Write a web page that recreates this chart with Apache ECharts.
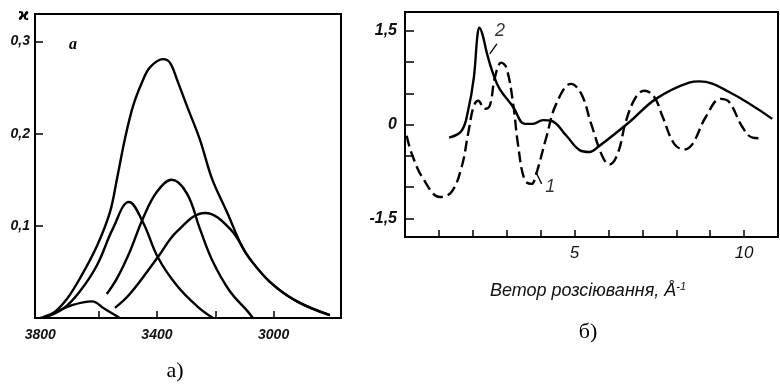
<!DOCTYPE html>
<html><head><meta charset="utf-8">
<script src="https://cdn.jsdelivr.net/npm/echarts@6/dist/echarts.min.js"></script>
<style>html,body{margin:0;padding:0;background:#fff}#c{width:780px;height:384px}</style>
</head><body><div id="c"></div>
<script>
// ---- Panel a) : IR band decomposition (wavenumber, absorbance) ----
const aXTicks = [3600, 3400, 3200, 3000];
const aXLabels = [3800, 3400, 3000];
const aYTicks = [0.1, 0.2, 0.3];
const envelope = [[3800,0],[3757,0.005],[3708,0.021],[3664,0.043],[3606,0.078],[3561,0.115],[3537,0.151],[3510,0.194],[3482,0.230],[3451,0.256],[3424,0.272],[3379,0.281],[3355,0.277],[3328,0.256],[3297,0.230],[3253,0.194],[3211,0.151],[3160,0.115],[3109,0.078],[3081,0.064],[3012,0.039],[2920,0.018],[2807,0.003]];
const band1 = [[3790,0.001],[3757,0.005],[3700,0.013],[3623,0.018],[3580,0.010],[3527,0.0]];
const band2 = [[3791,0.0],[3722,0.010],[3664,0.029],[3606,0.057],[3551,0.097],[3496,0.126],[3448,0.104],[3397,0.066],[3331,0.035],[3263,0.013],[3208,0.0]];
const band3 = [[3572,0.026],[3537,0.043],[3493,0.072],[3448,0.108],[3400,0.137],[3349,0.150],[3297,0.135],[3253,0.097],[3208,0.061],[3150,0.029],[3091,0.008],[3071,0.0]];
const band4 = [[3544,0.011],[3493,0.026],[3397,0.066],[3331,0.094],[3235,0.114],[3150,0.097],[3081,0.064],[3012,0.039],[2920,0.018],[2807,0.003]];

// ---- Panel б) : scattering curves (vector, intensity) ----
const bXTicks = [1,2,3,4,5,6,7,8,9,10];
const bXLabels = [5, 10];
const bYTicks = [-1.5,-1,-0.5,0,0.5,1,1.5];
const bYLabels = [-1.5, 0, 1.5];
const curve1 = [[0.05,-0.18],[0.20,-0.47],[0.54,-0.87],[1.03,-1.16],[1.37,-1.08],[1.67,-0.68],[1.86,-0.15],[2.03,0.30],[2.16,0.38],[2.35,0.25],[2.50,0.30],[2.65,0.75],[2.84,0.99],[2.99,0.91],[3.19,0.33],[3.33,-0.31],[3.53,-0.89],[3.73,-0.95],[3.87,-0.79],[4.17,-0.20],[4.46,0.33],[4.90,0.65],[5.20,0.49],[5.49,0.01],[5.83,-0.52],[6.03,-0.64],[6.27,-0.47],[6.52,0.06],[6.81,0.44],[7.06,0.54],[7.35,0.44],[7.60,0.12],[7.94,-0.31],[8.24,-0.40],[8.48,-0.31],[8.87,0.12],[9.31,0.41],[9.56,0.36],[9.95,-0.04],[10.25,-0.21],[10.49,-0.22]];
const curve2 = [[1.30,-0.21],[1.67,-0.10],[1.86,0.22],[2.03,0.75],[2.13,1.39],[2.19,1.55],[2.28,1.45],[2.42,1.13],[2.60,0.81],[2.79,0.57],[3.19,0.28],[3.53,0.01],[3.77,0.01],[4.07,0.07],[4.31,0.06],[4.76,-0.18],[5.15,-0.41],[5.44,-0.44],[5.69,-0.36],[6.62,0.04],[7.40,0.41],[8.38,0.67],[8.68,0.69],[9.56,0.52],[10.83,0.09]];
const label2 = {text:'2', at:[2.80,1.50], leader:[[2.71,1.29],[2.50,1.13]]};
const label1 = {text:'1', at:[4.28,-1.0], leader:[[3.86,-0.76],[4.03,-0.95]]};

const chart = echarts.init(document.getElementById('c'));
const tickFont = {fontFamily:'Liberation Sans', fontStyle:'italic', fontWeight:'bold', color:'#111'};
const comma = v => String(v).replace('.', ',');
const plain = v => String(v);
const lineS = (data, xi, dash, sm) => ({
  type:'line', xAxisIndex:xi, yAxisIndex:xi, data, smooth:sm, symbol:'none', silent:true,
  lineStyle:{color:'#000', width:2.4, type: dash ? [11,5] : 'solid'}
});
const leader = (lab, xi) => ({
  type:'line', xAxisIndex:xi, yAxisIndex:xi, data:lab.leader, symbol:'none', silent:true,
  lineStyle:{color:'#000', width:1.3}
});
const tag = (lab, xi) => ({
  type:'scatter', xAxisIndex:xi, yAxisIndex:xi, data:[lab.at], symbolSize:0, silent:true,
  label:{show:true, position:'inside', formatter:lab.text, fontFamily:'Liberation Sans', fontStyle:'italic', fontSize:18, color:'#000'}
});

chart.setOption({
  animation:false,
  backgroundColor:'#fff',
  grid:[
    {left:35, top:14, width:306, height:304, show:true, borderColor:'#000', borderWidth:2},
    {left:405, top:12, width:373, height:225, show:true, borderColor:'#000', borderWidth:2}
  ],
  title:[
    {text:'ϰ', left:13, top:4, textStyle:{fontFamily:'DejaVu Sans', fontWeight:'bold', fontSize:15, color:'#000'}},
    {text:'a', left:64, top:32, textStyle:{fontFamily:'Liberation Serif', fontStyle:'italic', fontWeight:'bold', fontSize:16, color:'#000'}},
    {text:'а)', left:170, top:355, textAlign:'center', textStyle:{fontFamily:'Liberation Serif', fontWeight:'normal', fontSize:22, color:'#000'}},
    {text:'б)', left:583, top:316, textAlign:'center', textStyle:{fontFamily:'Liberation Serif', fontWeight:'normal', fontSize:22, color:'#000'}},
    {text:'Ветор розсіювання, Å{s|-1}', left:583, top:276, textAlign:'center',
     textStyle:{fontFamily:'Liberation Sans', fontStyle:'italic', fontWeight:'normal', fontSize:18, color:'#111',
       rich:{s:{fontFamily:'Liberation Sans', fontStyle:'italic', fontSize:11, verticalAlign:'top', padding:[0,0,8,0], color:'#111'}}}}
  ],
  xAxis:[
    {type:'value', gridIndex:0, inverse:true, min:2769, max:3818,
     axisLine:{show:true, onZero:false, lineStyle:{color:'#000', width:2}},
     axisTick:{show:true, inside:true, length:7, customValues:aXTicks, lineStyle:{color:'#000', width:1.5}},
     axisLabel:{show:true, customValues:aXLabels, margin:10, fontSize:14, formatter:plain, ...tickFont},
     splitLine:{show:false}},
    {type:'value', gridIndex:1, min:0, max:11,
     axisLine:{show:true, onZero:false, lineStyle:{color:'#000', width:2}},
     axisTick:{show:true, inside:true, length:7, customValues:bXTicks, lineStyle:{color:'#000', width:1.5}},
     axisLabel:{show:true, customValues:bXLabels, margin:8, fontSize:17, formatter:plain, ...tickFont, fontWeight:'normal'},
     splitLine:{show:false}}
  ],
  yAxis:[
    {type:'value', gridIndex:0, min:0, max:0.33,
     axisLine:{show:true, onZero:false, lineStyle:{color:'#000', width:2}},
     axisTick:{show:true, inside:true, length:8, customValues:aYTicks, lineStyle:{color:'#000', width:1.5}},
     axisLabel:{show:true, customValues:aYTicks, margin:5, fontSize:14, formatter:comma, ...tickFont},
     splitLine:{show:false}},
    {type:'value', gridIndex:1, min:-1.8, max:1.8,
     axisLine:{show:true, onZero:false, lineStyle:{color:'#000', width:2}},
     axisTick:{show:true, inside:true, length:9, customValues:bYTicks, lineStyle:{color:'#000', width:1.5}},
     axisLabel:{show:true, customValues:bYLabels, margin:8, fontSize:16, formatter:comma, ...tickFont},
     splitLine:{show:false}}
  ],
  series:[
    lineS(envelope,0,false,0.35), lineS(band1,0,false,0.4), lineS(band2,0,false,0.4), lineS(band3,0,false,0.4), lineS(band4,0,false,0.4),
    lineS(curve1,1,true,0.4), lineS(curve2,1,false,0.4),
    leader(label2,1), leader(label1,1), tag(label2,1), tag(label1,1)
  ]
});
</script></body></html>
